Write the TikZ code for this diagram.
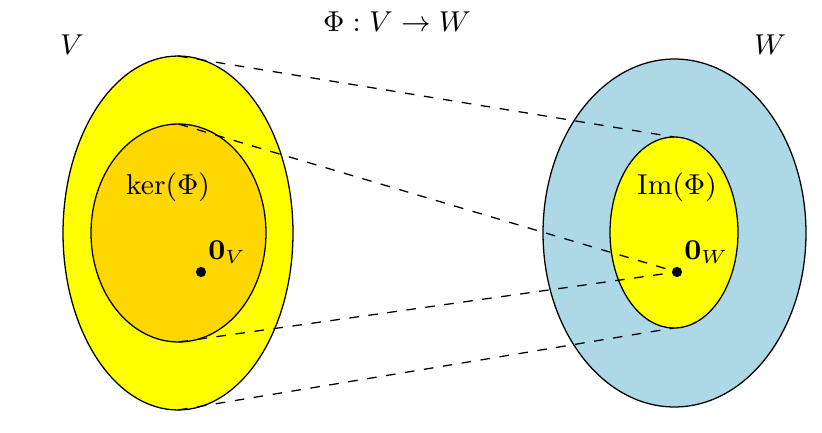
\documentclass[tikz,border=0pt]{standalone}
\usetikzlibrary{shapes.geometric,positioning}
\definecolor{setyellow}{RGB}{255,255,0}
\definecolor{kergold}{RGB}{255,215,0}
\definecolor{wblue}{RGB}{173,216,230}

\begin{document}
\begin{tikzpicture}[x=0.011cm, y=-0.011cm, font=\small,
    set/.style={ellipse, draw, thin, inner sep=0pt, outer sep=0pt},
    pt/.style={circle, fill, inner sep=0pt, minimum size=3.2pt},
    map/.style={dashed}]
    \useasboundingbox (0,0) rectangle (822,433);

    % the two spaces
    \node[set, fill=setyellow, minimum width=2.53cm, minimum height=3.894cm] (vs) at (178,233) {};
    \node[set, fill=kergold, minimum width=1.925cm, minimum height=2.398cm] (ker) at (178.5,233) {};
    \node[set, fill=wblue, minimum width=2.893cm, minimum height=3.828cm] (ws) at (674.5,233) {};
    \node[set, fill=setyellow, minimum width=1.408cm, minimum height=2.101cm] (im) at (674,232.5) {};

    \node (zv) [pt] at (201,272) {};
    \node (zw) [pt] at (677,272) {};
    \node[above right=-2pt and -2.5pt of zv] (lzv) {$\mathbf{0}_V$};
    \node[above right=-2pt and -2.5pt of zw] (lzw) {$\mathbf{0}_W$};

    \node (lker) at (168,187) {$\ker(\Phi)$};
    \node (lim) at (677,187) {$\mathrm{Im}(\Phi)$};
    \node (lv) at (72,45) {$V$};
    \node (lw) at (770,45) {$W$};
    \node (title) at (397,22) {$\Phi : V \rightarrow W$};

    % the map
    \draw[map] (vs.north) -- (im.north);
    \draw[map] (ker.north) -- (zw.center);
    \draw[map] (ker.south) -- (zw.center);
    \draw[map] (vs.south) -- (im.south);
\end{tikzpicture}
\end{document}
